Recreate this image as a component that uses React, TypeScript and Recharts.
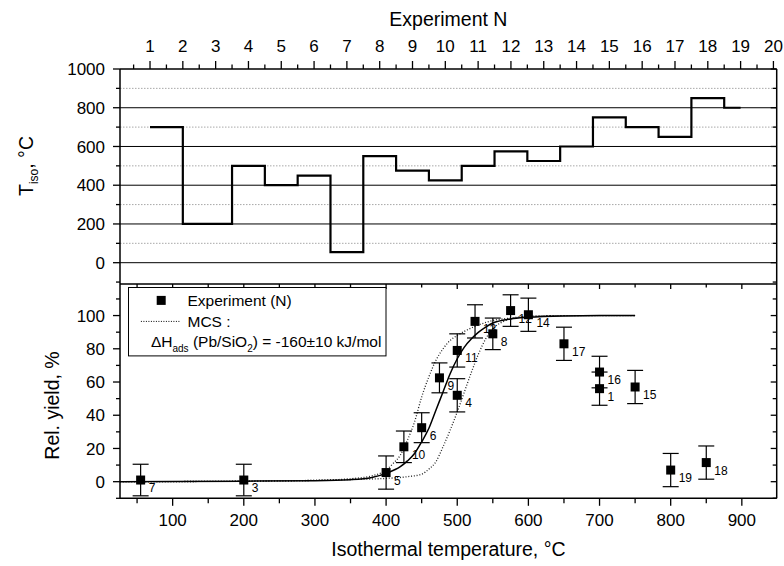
import React from 'react';
import { ComposedChart, Line, Scatter, XAxis, YAxis, ReferenceLine, ErrorBar, Legend, Label } from 'recharts';

const FONT = '"Liberation Sans", Arial, Helvetica, sans-serif';

// ---------- Upper panel: isothermal temperature of each experiment ----------
const stepExperiment = [1, 3, 4, 5, 6, 7, 8, 9, 10, 11, 12, 13, 14, 15, 16, 17, 18, 19];
const stepTiso = [700, 200, 500, 400, 450, 55, 550, 475, 425, 500, 575, 525, 600, 750, 700, 650, 850, 800];
const topXTicks = [0.5, 1, 1.5, 2, 2.5, 3, 3.5, 4, 4.5, 5, 5.5, 6, 6.5, 7, 7.5, 8, 8.5, 9, 9.5, 10, 10.5, 11, 11.5, 12, 12.5, 13, 13.5, 14, 14.5, 15, 15.5, 16, 16.5, 17, 17.5, 18, 18.5, 19, 19.5, 20];
const topYTicks = [-100, 0, 100, 200, 300, 400, 500, 600, 700, 800, 900, 1000];
const topMajorGrid = [0, 200, 400, 600, 800];
const topMinorGrid = [100, 300, 500, 700, 900];

// ---------- Lower panel: relative yield vs isothermal temperature ----------
const expNumber = [7, 3, 5, 10, 6, 9, 4, 11, 13, 8, 12, 14, 17, 16, 1, 15, 19, 18];
const expTemp = [55, 200, 400, 425, 450, 475, 500, 500, 525, 550, 575, 600, 650, 700, 700, 750, 800, 850];
const expYield = [1, 1, 5.5, 21, 32.5, 62.5, 52, 79, 96.5, 89, 103, 100.5, 83, 66, 56, 57, 7, 11.5];
const expError = [9.5, 9.5, 10, 9.5, 9, 9, 10, 10, 10, 9.5, 9.5, 10, 10, 9.5, 10, 10, 10, 10];

const mcsT = [26, 100, 200, 300, 350, 380, 400, 420, 430, 440, 450, 460, 470, 480, 490, 500, 510, 520, 530, 540, 550, 575, 600, 650, 700, 750];
const mcsYield = [0, 0.1, 0.3, 0.6, 1.2, 2.5, 5, 9, 12.5, 17, 24, 32, 43, 54, 65, 74, 81, 86, 90, 93, 95.5, 98, 99, 99.8, 100, 100];
const mcsLowT = [26, 200, 300, 350, 380, 400, 410, 420, 430, 440, 450, 460, 470, 480, 490, 500, 510, 525, 550, 575, 600, 650, 750];
const mcsLowYield = [0, 0.3, 0.8, 1.8, 3.5, 7, 11, 16, 25, 36, 51, 63, 73, 80, 85, 88, 90.5, 93.5, 97, 98.5, 99.5, 100, 100];
const mcsHighT = [26, 200, 300, 350, 400, 430, 450, 460, 470, 480, 490, 500, 510, 520, 530, 540, 550, 565, 580, 600, 650, 750];
const mcsHighYield = [0, 0.3, 0.8, 1.3, 2, 3, 4.5, 7.5, 12, 21, 31, 42, 54, 66, 77, 86, 92, 96.5, 98.5, 99.5, 100, 100];

const bottomXTicks = [50, 100, 150, 200, 250, 300, 350, 400, 450, 500, 550, 600, 650, 700, 750, 800, 850, 900];
const bottomYTicks = [-10, 0, 10, 20, 30, 40, 50, 60, 70, 80, 90, 100, 110];

const stepData = stepExperiment.map((n, i) => ({ n, t: stepTiso[i] }));
const pointData = expNumber.map((n, i) => ({ x: expTemp[i], y: expYield[i], e: expError[i], n }));
const mcsData = mcsT.map((x, i) => ({ x, y: mcsYield[i] }));
const mcsLowData = mcsLowT.map((x, i) => ({ x, y: mcsLowYield[i] }));
const mcsHighData = mcsHighT.map((x, i) => ({ x, y: mcsHighYield[i] }));

const AX = { stroke: '#000', strokeWidth: 1.5 };
const TW = 1.3;
const TICK_FS = 17;
const TITLE_FS = 19.5;

const leftTick = (isMajor: (v: number) => boolean) => (p: any) => {
  const v = p.payload.value;
  const m = isMajor(v);
  return (
    <g>
      <line x1={p.x - (m ? 7 : 4)} x2={p.x} y1={p.y} y2={p.y} stroke="#000" strokeWidth={TW} />
      {m && (
        <text x={p.x - 15} y={p.y + 6.1} textAnchor="end" fontFamily={FONT} fontSize={TICK_FS} fill="#000">
          {v}
        </text>
      )}
    </g>
  );
};

const rightInTick = (isMajor: (v: number) => boolean) => (p: any) => {
  const m = isMajor(p.payload.value);
  return <line x1={p.x - (m ? 6 : 4)} x2={p.x} y1={p.y} y2={p.y} stroke="#000" strokeWidth={TW} />;
};

const topOutTick = (p: any) => {
  const v = p.payload.value;
  const m = Number.isInteger(v);
  return (
    <g>
      <line x1={p.x} x2={p.x} y1={p.y} y2={p.y - (m ? 8 : 4.5)} stroke="#000" strokeWidth={TW} />
      {m && (
        <text x={p.x} y={p.y - 17.2} textAnchor="middle" fontFamily={FONT} fontSize={TICK_FS} fill="#000">
          {v}
        </text>
      )}
    </g>
  );
};

const topInTick = (p: any) => {
  const m = p.payload.value % 100 === 0;
  return <line x1={p.x} x2={p.x} y1={p.y} y2={p.y + (m ? 5 : 3.5)} stroke="#000" strokeWidth={TW} />;
};

const bottomOutTick = (p: any) => {
  const v = p.payload.value;
  const m = v % 100 === 0;
  return (
    <g>
      <line x1={p.x} x2={p.x} y1={p.y} y2={p.y + (m ? 7.5 : 5)} stroke="#000" strokeWidth={TW} />
      {m && (
        <text x={p.x} y={p.y + 27.2} textAnchor="middle" fontFamily={FONT} fontSize={TICK_FS} fill="#000">
          {v}
        </text>
      )}
    </g>
  );
};

const PointShape = (p: any) => {
  const { cx, cy, payload } = p;
  if (cx == null || cy == null) return <g />;
  return (
    <g>
      <rect x={cx - 4.5} y={cy - 4.5} width={9} height={9} fill="#000" />
      <text x={cx + 8} y={cy + 12} fontFamily={FONT} fontSize={12} fill="#000">
        {payload.n}
      </text>
    </g>
  );
};

const LegendBox = () => (
  <svg width={259} height={70} style={{ display: 'block' }}>
    <rect x={0.5} y={0.5} width={257.5} height={68.4} fill="#fff" stroke="#000" strokeWidth={1} />
    <rect x={28.7} y={8.9} width={9} height={9} fill="#000" />
    <text x={59.5} y={19} fontFamily={FONT} fontSize={15.5} fill="#000">Experiment (N)</text>
    <line x1={12.9} x2={52.9} y1={34.4} y2={34.4} stroke="#000" strokeWidth={1} strokeDasharray="1 1.5" />
    <text x={59.5} y={40} fontFamily={FONT} fontSize={15.5} fill="#000">MCS :</text>
    <text x={22.9} y={60} fontFamily={FONT} fontSize={15.5} fill="#000">
      ΔH<tspan dy={4.5} fontSize={10}>ads</tspan>
      <tspan dy={-4.5}> (Pb/SiO</tspan>
      <tspan dy={4.5} fontSize={10}>2</tspan>
      <tspan dy={-4.5}>) = -160±10 kJ/mol</tspan>
    </text>
  </svg>
);

function TopChart() {
  return (
    <ComposedChart width={784} height={286} data={stepData} margin={{ top: 0, right: 3.3, bottom: 2, left: 0 }}>
      <XAxis
        dataKey="n"
        type="number"
        orientation="top"
        domain={[0.085, 20.1]}
        allowDataOverflow
        ticks={topXTicks}
        interval={0}
        height={69}
        tickSize={0}
        tickMargin={0}
        tickLine={false}
        axisLine={AX}
        tick={topOutTick}
      >
        <Label
          content={() => (
            <text x={448.4} y={26} textAnchor="middle" fontFamily={FONT} fontSize={TITLE_FS} fill="#000">
              Experiment N
            </text>
          )}
        />
      </XAxis>
      <YAxis
        type="number"
        domain={[-110, 1000]}
        allowDataOverflow
        ticks={topYTicks}
        interval={0}
        width={120}
        tickSize={0}
        tickMargin={0}
        tickLine={false}
        axisLine={AX}
        tick={leftTick((v) => v >= 0 && v % 200 === 0)}
      >
        <Label
          content={() => (
            <text
              x={33.3}
              y={166}
              transform="rotate(-90 33.3 166)"
              textAnchor="middle"
              fontFamily={FONT}
              fontSize={TITLE_FS}
              fill="#000"
            >
              T<tspan dy={5} fontSize={12}>iso</tspan>
              <tspan dy={-5}>, °C</tspan>
            </text>
          )}
        />
      </YAxis>
      <YAxis
        yAxisId="r"
        orientation="right"
        type="number"
        domain={[-110, 1000]}
        allowDataOverflow
        ticks={topYTicks}
        interval={0}
        width={4}
        tickSize={0}
        tickMargin={0}
        tickLine={false}
        axisLine={AX}
        tick={rightInTick((v) => v % 200 === 0)}
      />
      {topMinorGrid.map((y) => (
        <ReferenceLine key={'mi' + y} y={y} stroke="#a8a8a8" strokeWidth={1} strokeDasharray="1.5 1.5" />
      ))}
      {topMajorGrid.map((y) => (
        <ReferenceLine key={'ma' + y} y={y} stroke="#000" strokeWidth={1} />
      ))}
      <Line type="step" dataKey="t" stroke="#000" strokeWidth={2.2} dot={false} activeDot={false} isAnimationActive={false} />
    </ComposedChart>
  );
}

function BottomChart() {
  return (
    <ComposedChart width={784} height={292} margin={{ top: 0, right: 3.3, bottom: 27.7, left: 0 }}>
      <XAxis
        dataKey="x"
        type="number"
        domain={[26, 949]}
        allowDataOverflow
        ticks={bottomXTicks}
        interval={0}
        height={40}
        tickSize={0}
        tickMargin={0}
        tickLine={false}
        axisLine={AX}
        tick={bottomOutTick}
      >
        <Label
          content={() => (
            <text x={448.4} y={282} textAnchor="middle" fontFamily={FONT} fontSize={TITLE_FS} fill="#000">
              Isothermal temperature, °C
            </text>
          )}
        />
      </XAxis>
      <XAxis
        xAxisId="t"
        dataKey="x"
        type="number"
        orientation="top"
        domain={[26, 949]}
        allowDataOverflow
        ticks={bottomXTicks}
        interval={0}
        height={10}
        tickSize={0}
        tickMargin={0}
        tickLine={false}
        axisLine={AX}
        tick={topInTick}
      />
      <YAxis
        dataKey="y"
        type="number"
        domain={[-10, 119]}
        allowDataOverflow
        ticks={bottomYTicks}
        interval={0}
        width={120}
        tickSize={0}
        tickMargin={0}
        tickLine={false}
        axisLine={AX}
        tick={leftTick((v) => v >= 0 && v <= 100 && v % 20 === 0)}
      >
        <Label
          content={() => (
            <text
              x={58.5}
              y={131.5}
              transform="rotate(-90 58.5 131.5)"
              textAnchor="middle"
              fontFamily={FONT}
              fontSize={TITLE_FS}
              fill="#000"
            >
              Rel. yield, %
            </text>
          )}
        />
      </YAxis>
      <YAxis
        yAxisId="r"
        orientation="right"
        type="number"
        domain={[-10, 119]}
        allowDataOverflow
        ticks={bottomYTicks}
        interval={0}
        width={4}
        tickSize={0}
        tickMargin={0}
        tickLine={false}
        axisLine={AX}
        tick={rightInTick((v) => v % 20 === 0)}
      />
      <Line data={mcsLowData} dataKey="y" type="monotone" stroke="#222" strokeWidth={1.3} strokeDasharray="1 1.8" dot={false} activeDot={false} isAnimationActive={false} />
      <Line data={mcsHighData} dataKey="y" type="monotone" stroke="#222" strokeWidth={1.3} strokeDasharray="1 1.8" dot={false} activeDot={false} isAnimationActive={false} />
      <Line data={mcsData} dataKey="y" type="monotone" stroke="#000" strokeWidth={1.5} dot={false} activeDot={false} isAnimationActive={false} />
      <Scatter data={pointData} dataKey="y" shape={PointShape} isAnimationActive={false}>
        <ErrorBar dataKey="e" direction="y" width={8} stroke="#000" strokeWidth={1.2} />
      </Scatter>
      <Legend
        layout="vertical"
        align="center"
        verticalAlign="middle"
        content={() => <LegendBox />}
        wrapperStyle={{ left: 127.8, top: 12.8, width: 259, height: 70, margin: 0, padding: 0 }}
      />
    </ComposedChart>
  );
}

export default function App() {
  return (
    <div style={{ position: 'absolute', left: 0, top: 0, width: 784, height: 566, background: '#fff', overflow: 'hidden' }}>
      <div style={{ position: 'absolute', left: 0, top: 0 }}>
        <TopChart />
      </div>
      <div style={{ position: 'absolute', left: 0, top: 274 }}>
        <BottomChart />
      </div>
    </div>
  );
}
